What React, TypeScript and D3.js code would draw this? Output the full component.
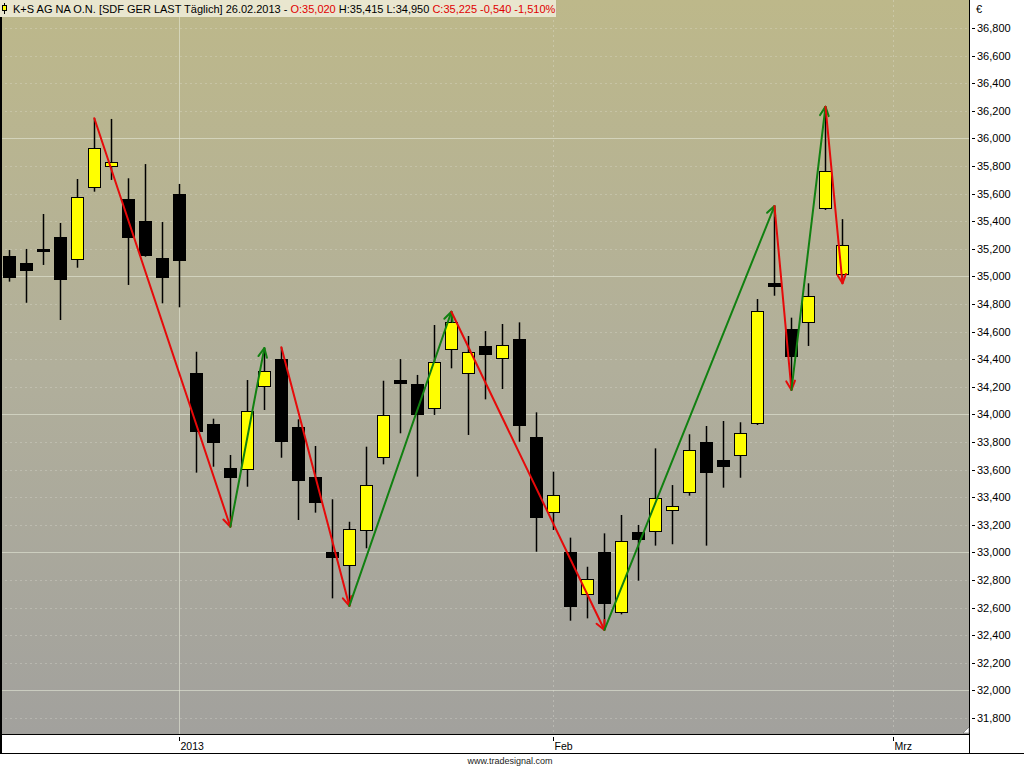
import * as d3 from "d3";
import React from "react";

const width = 1024;
const height = 768;

// daily OHLC, K+S AG, Dec 2012 - 26.02.2013
const opens = [
  35.148, 35.095, 35.2, 35.286, 35.124, 35.646, 35.798, 35.561, 35.401, 35.133,
  35.597, 34.302, 33.93, 33.614, 33.602, 34.206, 34.401, 33.909, 33.546, 33.005,
  32.907, 33.16, 33.689, 34.249, 34.22, 34.044, 34.472, 34.298, 34.496, 34.407,
  34.544, 33.836, 33.291, 33.001, 32.696, 33.001, 32.566, 33.146, 33.155, 33.307,
  33.436, 33.798, 33.667, 33.704, 33.94, 34.952, 34.619, 34.667, 35.493, 35.02,
];
const highs = [
  35.191, 35.199, 35.452, 35.387, 35.706, 36.146, 36.141, 35.711, 35.814, 35.394,
  35.67, 34.454, 33.969, 33.706, 34.249, 34.481, 34.486, 33.964, 33.771, 33.385,
  33.222, 33.766, 34.244, 34.401, 34.286, 34.648, 34.744, 34.568, 34.604, 34.655,
  34.667, 34.015, 33.585, 33.107, 32.896, 33.138, 33.271, 33.199, 33.754, 33.488,
  33.856, 33.916, 33.952, 33.943, 34.836, 35.51, 34.701, 34.95, 36.23, 35.415,
];
const lows = [
  34.962, 34.809, 35.083, 34.684, 35.063, 35.614, 35.699, 34.938, 35.143, 34.805,
  34.776, 33.578, 33.621, 33.186, 33.476, 34.032, 33.686, 33.235, 33.288, 32.667,
  32.612, 33.03, 33.638, 33.863, 33.549, 33.996, 34.334, 33.851, 34.109, 34.184,
  33.802, 33.005, 33.162, 32.505, 32.522, 32.438, 32.551, 32.795, 33.049, 33.059,
  33.411, 33.049, 33.469, 33.541, 33.923, 34.86, 34.177, 34.496, 35.481, 34.95,
];
const closes = [
  34.998, 35.046, 35.19, 34.983, 35.573, 35.928, 35.829, 35.288, 35.155, 34.998,
  35.121, 33.882, 33.802, 33.549, 34.025, 34.312, 33.809, 33.527, 33.367, 32.969,
  33.167, 33.488, 33.993, 34.225, 34.001, 34.378, 34.672, 34.45, 34.436, 34.501,
  33.923, 33.254, 33.414, 32.614, 32.805, 32.636, 33.08, 33.099, 33.392, 33.338,
  33.74, 33.58, 33.624, 33.863, 34.749, 34.933, 34.425, 34.856, 35.764, 35.225,
];

// zigzag swings: [from bar, to bar]
const zigzag: [number, number][] = [
  [5, 13], [13, 15], [16, 20], [20, 26], [26, 35], [35, 45], [45, 46], [46, 48], [48, 49],
];

const xTickLabels = ["2013", "Feb", "Mrz"];
const xTickBars = [10, 32, 52];

const plotRight = 970;
const plotBottom = 734;

const de = d3.formatLocale({ decimal: ",", thousands: ".", grouping: [3], currency: ["", "€"] });
const fmt = de.format(".3f");

const font = "'Liberation Sans', Arial, sans-serif";

export default function App() {
  const x = d3.scaleLinear().domain([-0.547, 56.5]).range([0, plotRight]);
  const y = d3.scaleLinear().domain([31.8, 36.8]).range([718, 28]);
  const yTicks = y.ticks(25);
  const bodyW = 12;

  const arrows = zigzag.map(([a, b]) => {
    const down = lows[b] < lows[a];
    const x1 = x(a), x2 = x(b);
    const y1 = y(down ? highs[a] : lows[a]);
    const y2 = y(down ? lows[b] : highs[b]);
    const ang = Math.atan2(y2 - y1, x2 - x1);
    const len = 10, spread = 0.45;
    const p1 = [x2 - len * Math.cos(ang - spread), y2 - len * Math.sin(ang - spread)];
    const p2 = [x2 - len * Math.cos(ang + spread), y2 - len * Math.sin(ang + spread)];
    return { down, x1, y1, x2, y2, head: `M${p1[0]},${p1[1]}L${x2},${y2}L${p2[0]},${p2[1]}` };
  });

  return (
    <svg
      width={width}
      height={height}
      style={{ position: "absolute", left: 0, top: 0, background: "#fff" }}
    >
      <defs>
        <linearGradient id="bg" x1="0" y1="0" x2="0" y2="1">
          <stop offset="0" stopColor="#bdb88a" />
          <stop offset="0.5" stopColor="#b1af9b" />
          <stop offset="1" stopColor="#a2a19d" />
        </linearGradient>
        <clipPath id="plot">
          <rect x={0} y={0} width={plotRight} height={plotBottom} />
        </clipPath>
      </defs>

      <rect x={0} y={0} width={plotRight} height={plotBottom} fill="url(#bg)" />

      {/* grid */}
      <g clipPath="url(#plot)">
        {yTicks.map((t) => {
          const major = Math.abs(t - Math.round(t)) < 1e-6;
          return (
            <line
              key={t}
              x1={0}
              x2={plotRight}
              y1={Math.round(y(t)) + 0.5}
              y2={Math.round(y(t)) + 0.5}
              stroke={major ? "rgba(228,232,215,0.6)" : "rgba(230,230,220,0.3)"}
              strokeDasharray={major ? undefined : "2,3"}
            />
          );
        })}
        {xTickBars.map((b, i) => (
          <line
            key={b}
            x1={Math.round(x(b)) + 0.5}
            x2={Math.round(x(b)) + 0.5}
            y1={0}
            y2={plotBottom}
            stroke={i === 0 ? "rgba(228,232,215,0.6)" : "rgba(230,230,220,0.35)"}
            strokeDasharray={i === 0 ? undefined : "2,3"}
          />
        ))}
      </g>

      {/* candles */}
      <g clipPath="url(#plot)">
        {opens.map((o, i) => {
          const c = closes[i];
          const cx = Math.round(x(i)) + 0.5;
          const up = c > o;
          const top = Math.round(y(Math.max(o, c))) + 0.5;
          const bot = Math.max(top + 2, Math.round(y(Math.min(o, c))) + 0.5);
          return (
            <g key={i}>
              <line x1={cx} x2={cx} y1={y(highs[i])} y2={y(lows[i])} stroke="#000" strokeWidth={1.5} />
              <rect
                x={cx - bodyW / 2}
                y={top}
                width={bodyW}
                height={bot - top}
                fill={up ? "#ffff00" : "#000"}
                stroke="#000"
                strokeWidth={1}
              />
            </g>
          );
        })}
      </g>

      {/* zigzag arrows */}
      <g clipPath="url(#plot)" fill="none" strokeWidth={2} strokeLinecap="round" strokeLinejoin="round">
        {arrows.map((a, i) => (
          <g key={i} stroke={a.down ? "#e60a0a" : "#118011"}>
            <line x1={a.x1} y1={a.y1} x2={a.x2} y2={a.y2} />
            <path d={a.head} />
          </g>
        ))}
      </g>

      {/* header */}
      <rect x={0} y={0} width={556} height={17} fill="#e9e6cf" />
      <line x1={4.5} x2={4.5} y1={3} y2={14} stroke="#000" />
      <rect x={2.5} y={5.5} width={4} height={5} fill="#ffff00" stroke="#000" />
      <text x={13} y={13} fontFamily={font} fontSize={11} fill="#000">
        K+S AG NA O.N. [SDF GER LAST Täglich] 26.02.2013 -{" "}
        <tspan fill="#e00000">O:35,020</tspan> H:35,415 L:34,950{" "}
        <tspan fill="#e00000">C:35,225 -0,540 -1,510%</tspan>
      </text>

      {/* frame */}
      <line x1={1} x2={1} y1={17} y2={754} stroke="#000" strokeWidth={2} />
      <line x1={0} x2={plotRight} y1={plotBottom + 0.5} y2={plotBottom + 0.5} stroke="#000" />
      <line x1={plotRight - 0.5} x2={plotRight - 0.5} y1={0} y2={754} stroke="#000" />
      <line x1={0} x2={width} y1={753.5} y2={753.5} stroke="#000" />
      <path
        d={`M${plotRight - 7},${plotBottom - 1}L${plotRight - 1},${plotBottom - 7}L${plotRight - 1},${plotBottom - 1}Z`}
        fill="#fff"
        stroke="#555"
        strokeWidth={0.5}
      />

      {/* right axis */}
      <text x={976} y={13} fontFamily={font} fontSize={11} fill="#000">€</text>
      {yTicks.map((t) => (
        <g key={t} transform={`translate(0,${Math.round(y(t)) + 0.5})`}>
          <line x1={972} x2={975} stroke="#000" />
          <text x={977} dy="0.35em" fontFamily={font} fontSize={11} fill="#000">
            {fmt(t)}
          </text>
        </g>
      ))}

      {/* bottom axis */}
      {xTickBars.map((b, i) => (
        <g key={b} transform={`translate(${Math.round(x(b)) + 0.5},0)`}>
          <line y1={737} y2={741} stroke="#000" />
          <text x={1} y={750} fontFamily={font} fontSize={10.5} fill="#000">
            {xTickLabels[i]}
          </text>
        </g>
      ))}

      <text x={510} y={764} textAnchor="middle" fontFamily={font} fontSize={9} fill="#222">
        www.tradesignal.com
      </text>
    </svg>
  );
}
